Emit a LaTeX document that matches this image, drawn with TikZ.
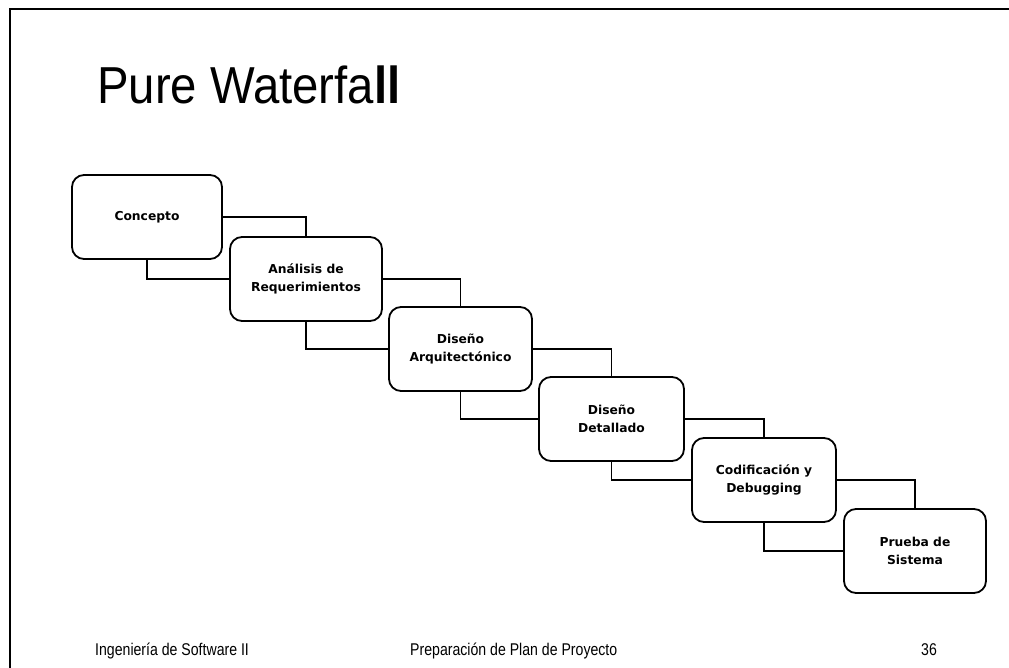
\documentclass[tikz,border=0pt]{standalone}
\usepackage{fontspec}
\setmainfont{Liberation Sans}
\newfontfamily\boxfont{DejaVu Sans}
\usepackage{graphicx}
\begin{document}
\begin{tikzpicture}[x=1pt,y=-1pt,
  phase/.style={draw, line width=1.8pt, rounded corners=12pt, align=center,
    font=\boxfont\bfseries\fontsize{12.3}{17.5}\selectfont, inner sep=0pt},
  link/.style={line width=1.8pt},
  foot/.style={anchor=base west, inner sep=0pt, font=\fontsize{17}{17}\selectfont}]
\useasboundingbox (0,0) rectangle (1009,668);
\draw[line width=2.5pt] (10,668) -- (10,9) -- (1009,9);
\node[anchor=base west, inner sep=0pt, font=\fontsize{52}{52}\selectfont] (title) at (97,104)
  {\scalebox{0.91}[1]{Pure Waterfa\textbf{ll}}};
\node[phase, minimum width=150pt, minimum height=84pt] (b1) at (147,217) {Concepto};
\node[phase, minimum width=152pt, minimum height=84pt] (b2) at (306,279) {Análisis de\\Requerimientos};
\node[phase, minimum width=143pt, minimum height=84pt] (b3) at (460.5,349) {Diseño\\Arquitectónico};
\node[phase, minimum width=145pt, minimum height=84pt] (b4) at (611.5,419) {Diseño\\Detallado};
\node[phase, minimum width=144pt, minimum height=84pt] (b5) at (764,480) {Codificación y\\Debugging};
\node[phase, minimum width=142pt, minimum height=84pt] (b6) at (915,551) {Prueba de\\ Sistema};
\foreach \a/\b in {b1/b2,b2/b3,b3/b4,b4/b5,b5/b6}{
  \draw[link] (\a.east) -| (\b.north);
  \draw[link] (\a.south) |- (\b.west);
}
\node[foot] (f1) at (95,655) {\scalebox{0.83}[1]{Ingeniería de Software II}};
\node[foot] (f2) at (410,655) {\scalebox{0.83}[1]{Preparación de Plan de Proyecto}};
\node[foot] (f3) at (921,655) {\scalebox{0.83}[1]{36}};
\end{tikzpicture}
\end{document}
